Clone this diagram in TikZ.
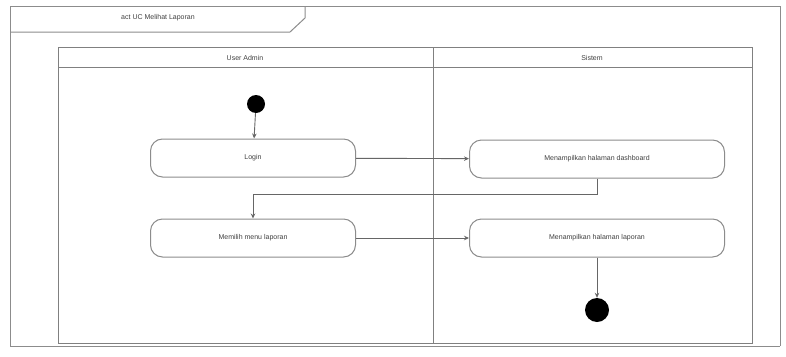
\documentclass[tikz,border=0pt]{standalone}
\usepackage{fontspec}
\setmainfont{Liberation Sans}
\usetikzlibrary{arrows.meta}
\tikzset{
  frameline/.style={draw=black!45, line width=1pt},
  lane/.style={draw=black!50, line width=0.9pt},
  actbox/.style={draw=black!45, line width=1pt, rounded corners=12pt, fill=white, font=\fontsize{7}{8}\selectfont, text=black!75},
  flow/.style={draw=black!60, line width=0.9pt, -{Stealth[length=5pt,width=4.5pt]}},
  hdr/.style={font=\fontsize{7}{8}\selectfont, text=black!75},
}
\begin{document}
\begin{tikzpicture}[x=1pt,y=-1pt]
\useasboundingbox (0,0) rectangle (786,356);
\fill[white] (0,0) rectangle (786,356);
% outer frame
\draw[frameline] (10,6) -- (780,6);
\draw[frameline] (10,6) -- (10,346);
\draw[frameline] (780,6) -- (780,346);
\draw[frameline] (10,346) -- (780,346);
% title tab
\draw[frameline] (10,32) -- (290,32) -- (305,18) -- (305,6);
\node[hdr] (title) at (158,18) {act UC Melihat Laporan};
% swimlanes
\draw[lane] (58,47) rectangle (752,343);
\draw[lane] (58,67) -- (752,67);
\draw[lane] (433,47) -- (433,343);
\node[hdr] (l1) at (245,58) {User Admin};
\node[hdr] (l2) at (592,58) {Sistem};
% nodes
\node[circle, fill=black, minimum size=18pt, inner sep=0pt] (start) at (256,104) {};
\node[actbox, minimum width=205pt, minimum height=38pt] (login) at (253,158) {Login};
\node[actbox, minimum width=255pt, minimum height=38pt] (dash) at (597,159) {Menampilkan halaman dashboard};
\node[actbox, minimum width=205pt, minimum height=38pt] (menu) at (253,238) {Memilih menu laporan};
\node[actbox, minimum width=255pt, minimum height=38pt] (lap) at (597,238) {Menampilkan halaman laporan};
\node[circle, fill=black, minimum size=24pt, inner sep=0pt] (end) at (597,310) {};
% flows
\draw[flow] (start) -- (login);
\draw[flow] (login) -- (dash);
\draw[flow] (dash.south) -- ++(0,16) -| (menu.north);
\draw[flow] (menu) -- (lap);
\draw[flow] (lap) -- (end);
\end{tikzpicture}
\end{document}
